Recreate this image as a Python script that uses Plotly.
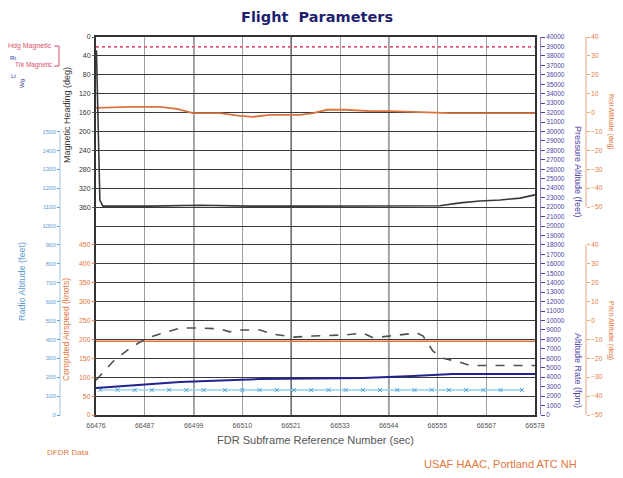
import plotly.graph_objects as go

# ---------------- data ----------------
x_tick_vals = [66476, 66487.3, 66498.7, 66510, 66521.3, 66532.7, 66544, 66555.3, 66566.7, 66578]
x_tick_labels = ["66476", "66487", "66499", "66510", "66521", "66533", "66544", "66555", "66567", "66578"]
x_major_lines = [66498.7, 66521.3, 66544]

heading_ticks = [0, 40, 80, 120, 160, 200, 240, 280, 320, 360]
airspeed_ticks = [0, 50, 100, 150, 200, 250, 300, 350, 400, 450]
radio_alt_ticks = [0, 100, 200, 300, 400, 500, 600, 700, 800, 900, 1000, 1100, 1200, 1300, 1400, 1500]
attitude_ticks = [-50, -40, -30, -20, -10, 0, 10, 20, 30, 40]

# selected heading (red dotted)
sel_hdg_ref = [66476, 66486, 66496, 66506, 66516, 66526, 66536, 66546, 66556, 66566, 66578]
sel_hdg = [21, 21, 21, 21, 21, 21, 21, 21, 21, 21, 21]

# magnetic heading (orange)
mag_hdg_ref = [66476.0, 66483.9, 66490.9, 66494.8, 66498.5, 66504.8, 66509.5, 66512.5, 66516.4,
               66523.4, 66526.4, 66529.7, 66533.9, 66539.7, 66544.3, 66551.3, 66558.3, 66565.2,
               66572.2, 66578.0]
mag_hdg = [150, 148, 148, 152, 161, 161, 167, 169, 165, 165, 161, 154, 154, 157, 157, 159, 161,
           161, 161, 161]

# track (dark line, upper panel)
track_ref = [66476.1, 66476.5, 66476.9, 66477.6, 66488.5, 66500.2, 66511.8, 66523.4, 66535.0,
             66546.6, 66555.9, 66560.6, 66565.2, 66569.9, 66574.5, 66578.0]
track = [28, 197, 345, 358, 358, 356, 358, 358, 358, 358, 357, 351, 347, 345, 341, 334]

# computed airspeed (dark line, lower panel)
cas_ref = [66476.0, 66480.0, 66483.9, 66487.9, 66491.6, 66495.5, 66499.5, 66504.8, 66507.1,
           66509.5, 66514.1, 66517.1, 66521.8, 66526.4, 66534.3, 66538.0, 66540.4, 66543.6,
           66546.6, 66550.6, 66552.0, 66554.3, 66556.6, 66559.9, 66562.9, 66569.2, 66578.0]
cas = [92, 142, 177, 204, 217, 230, 230, 228, 220, 225, 225, 214, 206, 209, 212, 217, 204, 209,
       212, 217, 209, 169, 150, 142, 131, 131, 131]

# selected airspeed (orange)
sel_spd_ref = [66476, 66484, 66492, 66500, 66508, 66516, 66524, 66532, 66540, 66548, 66556,
               66564, 66572, 66578]
sel_spd = [195, 195, 195, 195, 195, 195, 195, 195, 195, 195, 195, 195, 195, 195]

# pressure altitude (navy)
alt_ref = [66476, 66486, 66495.5, 66505, 66514.1, 66526, 66538, 66549.7, 66558.9, 66568, 66578]
alt = [2860, 3180, 3490, 3650, 3810, 3870, 3920, 4130, 4340, 4340, 4340]

# radio altitude (cyan with markers)
ra_ref = [66477, 66481, 66485, 66489, 66493, 66497, 66501, 66506, 66510, 66514, 66518, 66522,
          66526, 66530, 66534, 66538, 66542, 66546, 66550, 66554, 66558, 66562, 66566, 66570, 66575]
ra = [133, 133, 132, 132, 133, 132, 132, 132, 133, 132, 132, 132, 132, 133, 132, 132, 132, 132,
      132, 133, 132, 132, 132, 132, 132]

# ---------------- layout helpers ----------------
# the page body has an 8px default margin on every side: the figure is sized so the
# page never overflows the window, and placed so coordinates match the window
OFF = 8
W, H = 623 - 2 * OFF, 478 - 2 * OFF
MT = 37 - OFF
MB = H - (415 - OFF)
PH = H - MT - MB
FONT = "Liberation Sans"

ORANGE = "#e5773d"
ORANGE_L = "#eaa47e"
BLUE = "#5d9bd3"
BLUE_L = "#9cc6ea"
PURPLE = "#4d43a8"
DARK = "#3a3a3a"


def px(x):
    return (x - OFF) / W


def py(y):
    return (H - MB - (y - OFF)) / PH


fig = go.Figure()

# empty trace on the base axes so the main grid subplot is created
fig.add_trace(go.Scatter(x=[None], y=[None], mode="lines", showlegend=False, hoverinfo="skip"))
fig.add_trace(go.Scatter(x=sel_hdg_ref, y=sel_hdg, yaxis="y2", mode="lines",
                         line=dict(color="#df5a78", width=1.6, dash="dot"), showlegend=False))
fig.add_trace(go.Scatter(x=mag_hdg_ref, y=mag_hdg, yaxis="y2", mode="lines",
                         line=dict(color="#d9733f", width=1.8), showlegend=False))
fig.add_trace(go.Scatter(x=track_ref, y=track, yaxis="y2", mode="lines",
                         line=dict(color="#383838", width=1.6), showlegend=False))
fig.add_trace(go.Scatter(x=sel_spd_ref, y=sel_spd, yaxis="y3", mode="lines",
                         line=dict(color="#d9733f", width=1.6), showlegend=False))
fig.add_trace(go.Scatter(x=cas_ref, y=cas, yaxis="y3", mode="lines",
                         line=dict(color="#505050", width=1.6, dash="dash"), showlegend=False))
fig.add_trace(go.Scatter(x=ra_ref, y=ra, yaxis="y4", mode="lines+markers",
                         line=dict(color="#8fd0ec", width=1.4),
                         marker=dict(color="#4f9fcf", size=4, symbol="x-thin-open",
                                     line=dict(width=1, color="#4f9fcf")),
                         showlegend=False))
fig.add_trace(go.Scatter(x=alt_ref, y=alt, yaxis="y5", mode="lines",
                         line=dict(color="#23238f", width=2), showlegend=False))
# roll / pitch scales carry no visible trace in the reference; empty traces keep the axes drawn
fig.add_trace(go.Scatter(x=[None], y=[None], yaxis="y6", mode="lines", showlegend=False,
                         hoverinfo="skip"))
fig.add_trace(go.Scatter(x=[None], y=[None], yaxis="y7", mode="lines", showlegend=False,
                         hoverinfo="skip"))

xdom = [px(96), px(535)]

common = dict(automargin=False, zeroline=False, showgrid=False, fixedrange=True,
              overlaying="y", showline=False)

fig.update_layout(
    width=W, height=H,
    margin=dict(l=0, r=0, t=MT, b=MB, pad=0),
    paper_bgcolor="white", plot_bgcolor="rgba(0,0,0,0)",
    font=dict(family=FONT, size=7, color=DARK),
    title=dict(text="<b>Flight  Parameters</b>", x=px(317), xanchor="center",
               y=1 - (17 - OFF) / H, yanchor="middle",
               font=dict(family="DejaVu Sans", size=14.5, color="#1f1f70")),
    xaxis=dict(domain=xdom, range=[66476, 66578], anchor="y", tickvals=x_tick_vals,
               ticktext=x_tick_labels, showgrid=True, gridcolor="#a0a0a0", gridwidth=1,
               ticks="outside", ticklen=3, tickcolor="rgba(0,0,0,0)",
               tickfont=dict(size=7, color="#555"), zeroline=False,
               showline=True, linecolor="#333", linewidth=1.5, mirror=True, automargin=False,
               fixedrange=True,
               title=dict(text="FDR Subframe Reference Number (sec)",
                          font=dict(size=11, color="#555"), standoff=8)),
    yaxis=dict(domain=[0, 1], range=[20, 0], tickmode="linear", tick0=0, dtick=1,
               showticklabels=False, ticks="",
               showgrid=True, gridcolor="#3a3a3a", gridwidth=1.3, zeroline=False,
               showline=True, linecolor="#333", linewidth=1.5, mirror=True, automargin=False,
               fixedrange=True),
    # heading: 0 at top, 360 at 9th grid line down
    yaxis2=dict(anchor="x", side="left", range=[800, 0],
                tickvals=heading_ticks, ticks="outside", ticklen=3, tickcolor="#555",
                tickfont=dict(size=7, color="#333"), **common),
    # airspeed: 0 at bottom, 450 at 9th grid line up
    yaxis3=dict(anchor="x", side="left", range=[0, 1000],
                tickvals=airspeed_ticks, ticks="outside", ticklen=3, tickcolor=ORANGE,
                tickfont=dict(size=7, color=ORANGE), **common),
    # radio altitude: 0 at bottom, 1500 at 15th grid line up
    yaxis4=dict(anchor="free", position=px(60), side="left", range=[0, 2000],
                tickvals=radio_alt_ticks, ticks="outside", ticklen=3, tickcolor=BLUE,
                tickfont=dict(size=6, color=BLUE), **common),
    yaxis5=dict(anchor="free", position=px(540), side="right",
                range=[0, 40000], tickmode="linear", tick0=0, dtick=1000, tickformat="d",
                ticks="outside", ticklen=4, tickcolor=PURPLE,
                tickfont=dict(size=6.5, color=PURPLE), automargin=False, zeroline=False,
                showgrid=False, fixedrange=True, overlaying="y", showline=True,
                linecolor="#8c86cc", linewidth=1),
    # roll: 40 at top, -50 at 9th grid line down
    yaxis6=dict(anchor="free", position=px(586), side="right", range=[-160, 40],
                tickvals=attitude_ticks, ticks="outside", ticklen=3, tickcolor=ORANGE_L,
                ticklabelstandoff=0, tickfont=dict(size=6.5, color=ORANGE), **common),
    # pitch: -50 at bottom, 40 at 9th grid line up
    yaxis7=dict(anchor="free", position=px(586), side="right", range=[-50, 150],
                tickvals=attitude_ticks, ticks="outside", ticklen=3, tickcolor=ORANGE_L,
                ticklabelstandoff=0, tickfont=dict(size=6.5, color=ORANGE), **common),
)

# darker major vertical gridlines
for xv in x_major_lines:
    fig.add_shape(type="line", xref="x", yref="paper", x0=xv, x1=xv, y0=0, y1=1,
                  line=dict(color="#2e2e2e", width=1.4), layer="below")

# axis spines for the partial-height scales
for x, y0, y1, col in [(60, 133, 415, BLUE_L), (586, 37, 207, ORANGE_L), (586, 245, 415, ORANGE_L)]:
    fig.add_shape(type="line", xref="paper", yref="paper", x0=px(x), x1=px(x),
                  y0=py(y0), y1=py(y1), line=dict(color=col, width=1))

anns = [
    ("Magnetic Heading (deg)", 67, 115, DARK, 9, -90),
    ("Radio Altitude (feet)", 22, 282, BLUE, 9, -90),
    ("Computed Airspeed (knots)", 66, 330, ORANGE, 8.5, -90),
    ("Pressure Altitude (feet)", 578, 172, PURPLE, 9, 90),
    ("Altitude Rate (fpm)", 578, 370, PURPLE, 9, 90),
    ("Roll Attitude (deg)", 611, 122, ORANGE, 7, 90),
    ("Pitch Attitude (deg)", 611, 330, ORANGE, 7, 90),
    ("Hdg Magnetic", 30, 46, "#d9506a", 7, 0),
    ("Trk Magnetic", 34, 65, "#d9506a", 6.5, 0),
    ("Rt", 13, 58, "#3a3a9a", 6, 0),
    ("Lt", 13, 76, "#3a3a9a", 6, 0),
    ("Wg", 22, 84, "#3a3a9a", 6, -90),
    ("DFDR Data", 68, 452, ORANGE, 8, 0),
    ("USAF HAAC, Portland ATC NH", 500, 464, ORANGE, 11, 0),
]
for text, x, y, color, size, ang in anns:
    fig.add_annotation(text=text, xref="paper", yref="paper", x=px(x), y=py(y),
                       showarrow=False, textangle=ang, xanchor="center", yanchor="middle",
                       font=dict(size=size, color=color, family=FONT))

# bracket linking the two heading labels
fig.add_shape(type="path", xref="paper", yref="paper",
              path=f"M {px(54)} {py(46)} L {px(59)} {py(46)} L {px(59)} {py(66)} L {px(54)} {py(66)}",
              line=dict(color="#d9506a", width=1))

fig.write_html("out.html")
